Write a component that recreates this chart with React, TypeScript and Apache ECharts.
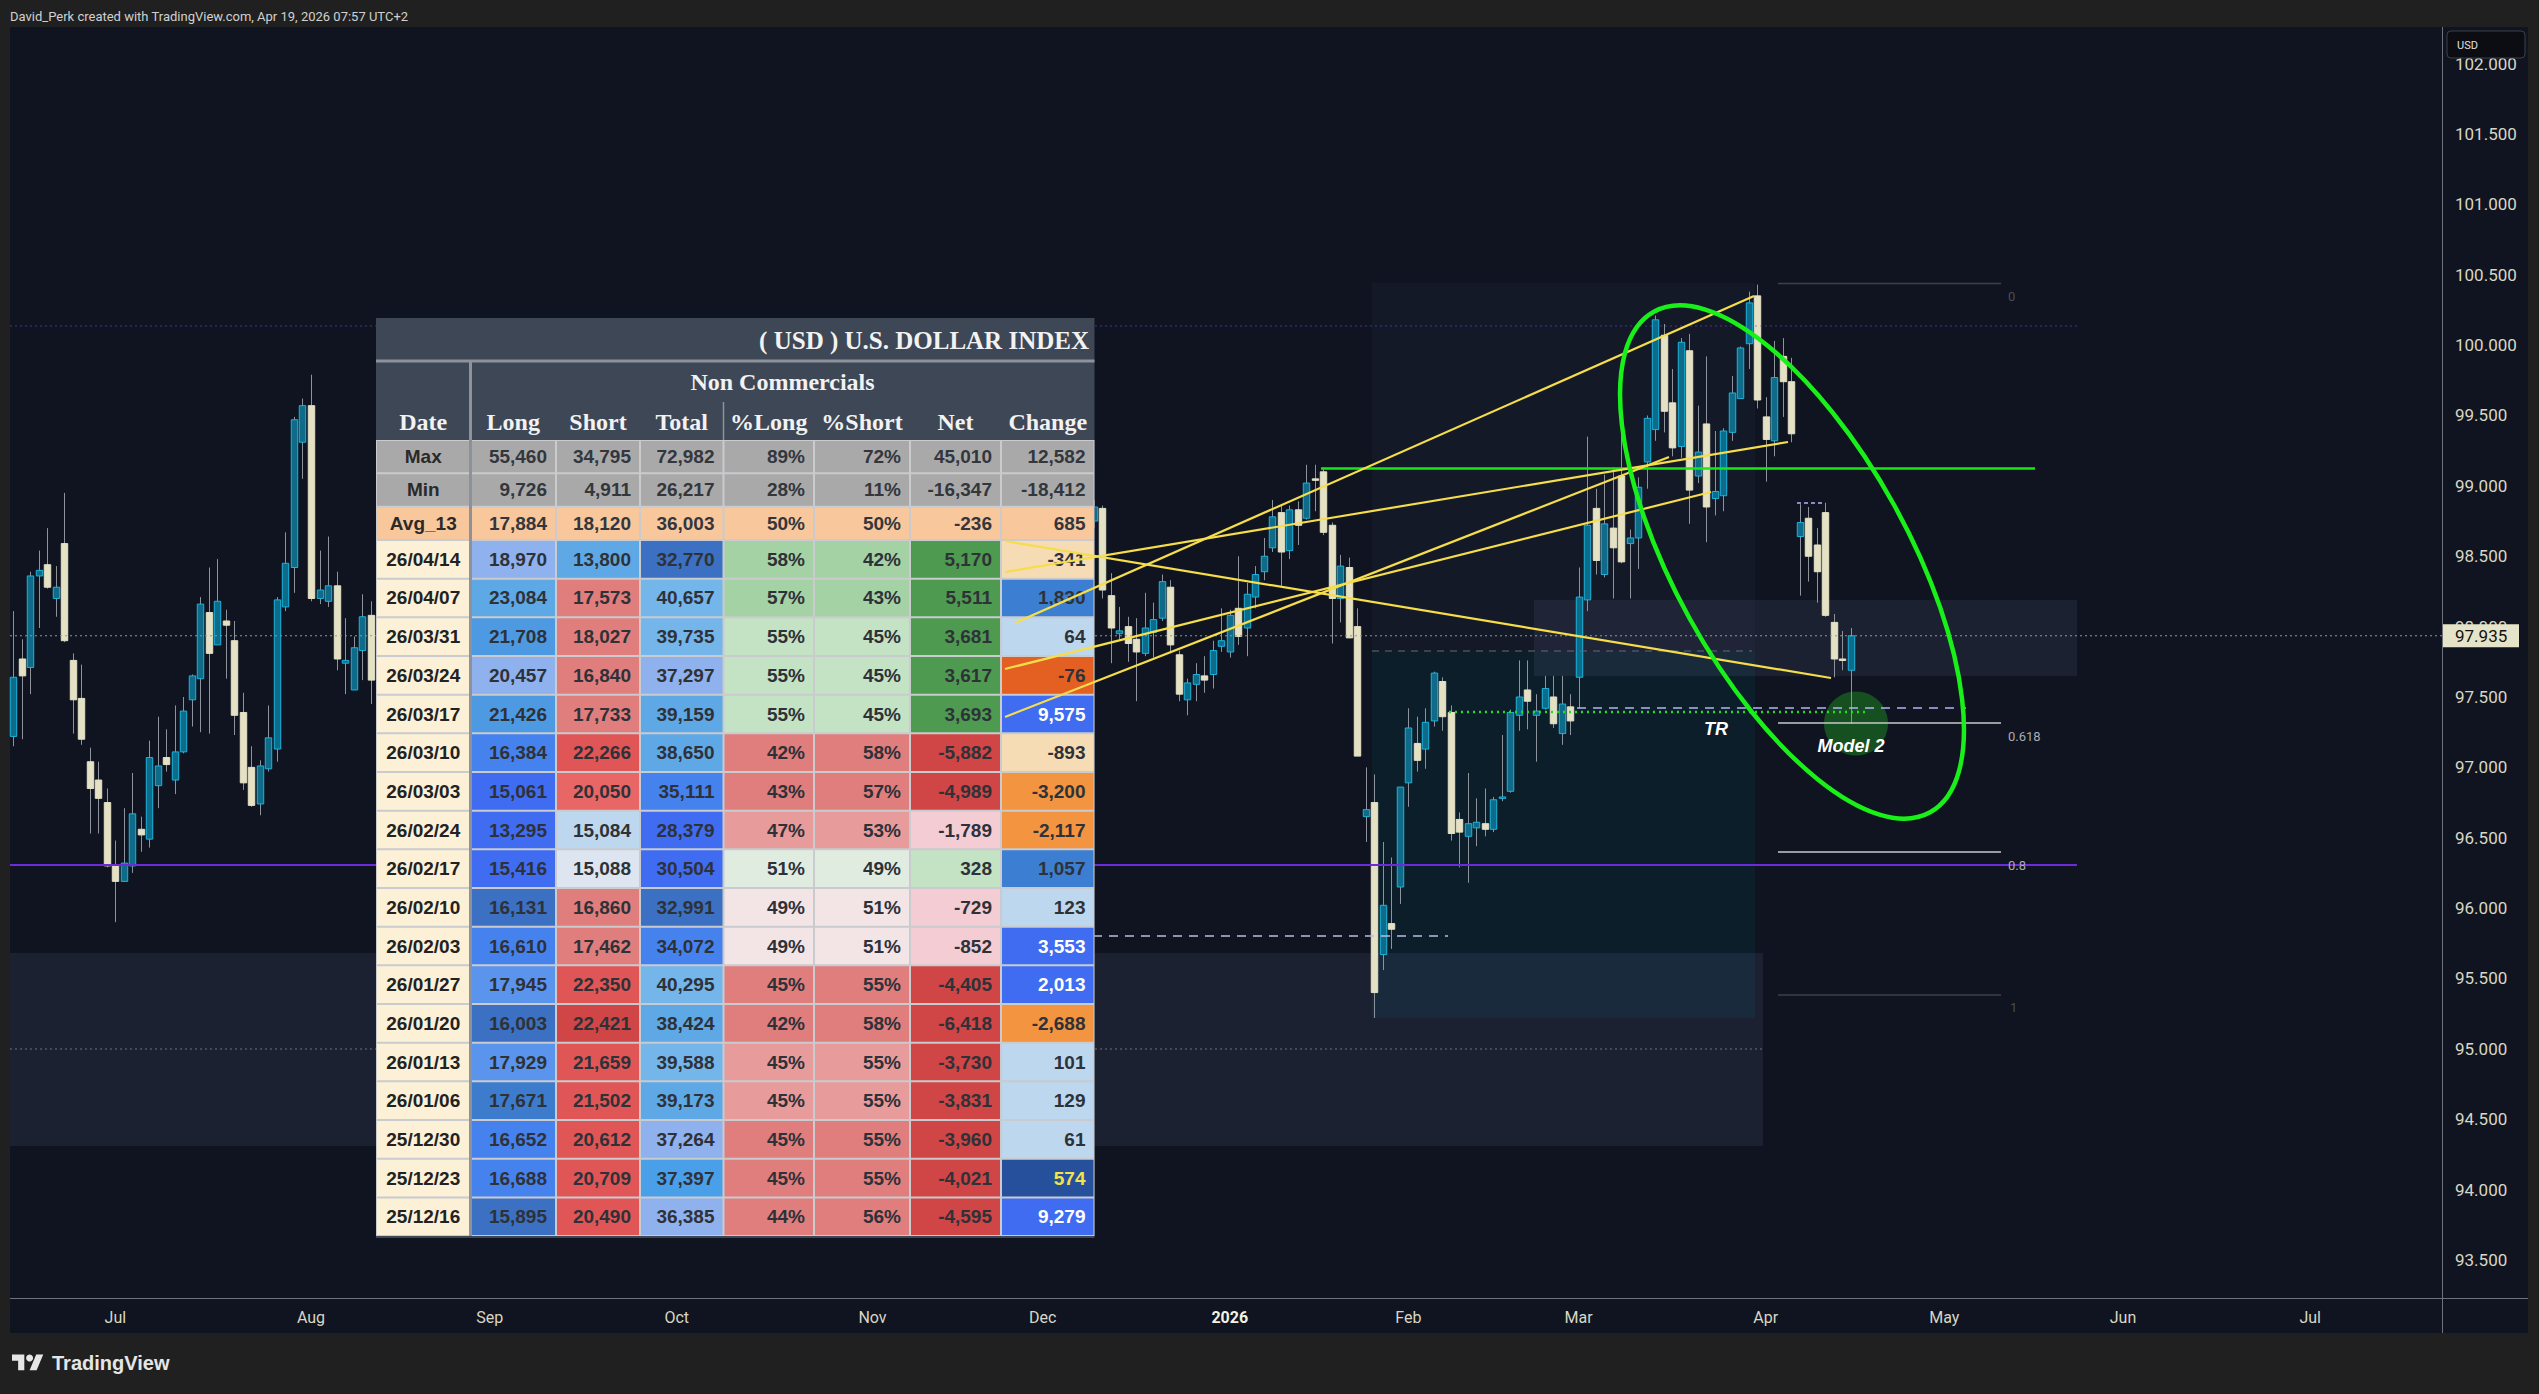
import React, { useEffect, useRef } from "react";
import * as echarts from "echarts";

const WIDTH = 2539;
const HEIGHT = 1394;

// ---------------- calendar (trading days on the category axis) ----------------
const CALENDAR_START = "2025-06-13";
const CALENDAR_SLOTS = 286;
const MARKET_HOLIDAYS = ["2025-12-25", "2026-01-01", "2026-04-03"];
const MONTH_NAMES = ["Jan", "Feb", "Mar", "Apr", "May", "Jun", "Jul", "Aug", "Sep", "Oct", "Nov", "Dec"];

// ---------------- price data: [open, close, low, high] ----------------
// bars visible left of the COT table (Jun 13 -> Aug 12, 2025)
const SUMMER_START = "2025-06-13";
const candlesSummer: number[][] = [
  [97.22, 97.64, 97.15, 98.11], [97.77, 97.65, 97.2, 97.91], [97.71, 98.36, 97.52, 98.39], [98.36, 98.4, 97.99, 98.54],
  [98.44, 98.28, 98.27, 98.7], [98.2, 98.28, 98.07, 98.43], [98.59, 97.9, 97.89, 98.95], [97.76, 97.48, 97.24, 97.81],
  [97.49, 97.2, 97.16, 97.73], [97.04, 96.85, 96.53, 97.14], [96.91, 96.78, 96.53, 97.04], [96.75, 96.3, 96.29, 96.85],
  [96.3, 96.19, 95.9, 96.48], [96.19, 96.32, 96.19, 96.71], [96.3, 96.67, 96.25, 96.96], [96.56, 96.52, 96.4, 96.65],
  [96.49, 97.07, 96.43, 97.19], [96.87, 97.01, 96.71, 97.36], [97.07, 97.02, 96.97, 97.27], [96.91, 97.11, 96.81, 97.44],
  [97.11, 97.4, 97.1, 97.5], [97.48, 97.65, 97.29, 97.66], [97.63, 98.16, 97.25, 98.21], [98.1, 97.81, 97.24, 98.42],
  [97.87, 98.18, 97.87, 98.48], [98.04, 98.01, 97.63, 98.12], [97.9, 97.37, 97.23, 98.04], [97.39, 96.89, 96.84, 97.53],
  [97.0, 96.73, 96.72, 97.15], [96.74, 97.01, 96.66, 97.05], [96.99, 97.21, 96.97, 97.44], [97.13, 98.19, 97.04, 98.21],
  [98.14, 98.45, 98.11, 98.67], [98.42, 99.47, 98.24, 99.49], [99.31, 99.57, 99.05, 99.62], [99.57, 98.2, 98.18, 99.79],
  [98.2, 98.26, 98.16, 98.54], [98.18, 98.29, 98.14, 98.64], [98.29, 97.77, 97.69, 98.39], [97.74, 97.76, 97.52, 98.06],
  [97.55, 97.85, 97.55, 97.93], [97.83, 98.07, 97.62, 98.23], [98.08, 97.62, 97.45, 98.18],
];
// bars Aug 13 -> Dec 8 sit completely behind the COT table and cannot be read
// bars visible right of the table (Dec 9, 2025 -> last bar)
const WINTER_START = "2025-12-09";
const candlesWinter: number[][] = [
  [98.75, 98.85, 98.7, 98.9], [98.84, 98.26, 98.2, 98.86], [98.22, 97.99, 97.74, 98.38], [97.95, 97.97, 97.91, 98.14],
  [98.0, 97.88, 97.75, 98.07], [97.91, 97.82, 97.47, 98.06], [97.81, 97.99, 97.79, 98.24], [97.96, 98.05, 97.78, 98.17],
  [98.06, 98.32, 98.04, 98.37], [98.28, 97.87, 97.81, 98.33], [97.8, 97.52, 97.47, 97.83], [97.48, 97.6, 97.37, 97.63],
  [97.59, 97.66, 97.47, 97.74], [97.65, 97.62, 97.53, 97.79], [97.66, 97.83, 97.56, 97.9], [97.86, 97.9, 97.82, 98.13],
  [97.82, 98.08, 97.78, 98.12], [98.13, 97.93, 97.87, 98.5], [97.99, 98.23, 97.79, 98.31], [98.21, 98.37, 98.13, 98.43],
  [98.39, 98.5, 98.33, 98.63], [98.56, 98.78, 98.53, 98.9], [98.81, 98.53, 98.29, 98.87], [98.54, 98.83, 98.48, 98.86],
  [98.83, 98.72, 98.58, 98.89], [98.77, 99.02, 98.76, 99.15], [99.05, 99.04, 98.82, 99.15], [99.1, 98.67, 98.65, 99.13],
  [98.72, 98.2, 97.88, 98.74], [98.2, 98.43, 98.03, 98.51], [98.42, 97.92, 97.92, 98.49], [98.0, 97.08, 97.08, 98.13],
  [96.65, 96.7, 96.47, 97.0], [96.75, 95.4, 95.22, 96.95], [95.67, 96.02, 95.56, 96.47], [95.89, 95.85, 95.71, 96.36],
  [96.15, 96.86, 96.03, 96.86], [96.89, 97.28, 96.72, 97.42], [97.17, 97.05, 96.97, 97.36], [97.13, 97.32, 96.99, 97.42],
  [97.33, 97.67, 97.29, 97.68], [97.61, 97.36, 97.26, 97.64], [97.39, 96.53, 96.48, 97.44], [96.63, 96.54, 96.29, 96.68],
  [96.51, 96.6, 96.18, 96.96], [96.57, 96.61, 96.44, 96.78], [96.6, 96.56, 96.51, 96.85], [96.56, 96.77, 96.54, 96.79],
  [96.78, 96.79, 96.76, 97.23], [96.83, 97.39, 96.82, 97.41], [97.37, 97.5, 97.26, 97.76], [97.55, 97.47, 97.27, 97.76],
  [97.37, 97.4, 97.04, 97.52], [97.42, 97.56, 97.41, 97.65], [97.5, 97.31, 97.28, 97.65], [97.24, 97.45, 97.16, 97.65],
  [97.43, 97.33, 97.23, 97.52], [97.64, 98.21, 97.42, 98.42], [98.19, 98.72, 98.11, 99.35], [98.84, 98.47, 98.37, 98.98],
  [98.37, 98.73, 98.35, 99.08], [98.7, 98.56, 98.2, 99.13], [99.07, 98.46, 98.45, 99.42], [98.59, 98.63, 98.2, 98.69],
  [98.63, 98.99, 98.41, 99.06], [99.17, 99.48, 98.98, 99.5], [99.4, 100.18, 99.32, 100.21], [100.07, 99.53, 99.38, 100.15],
  [99.59, 99.27, 99.21, 99.83], [99.28, 100.02, 99.2, 100.05], [99.96, 98.97, 98.73, 100.08], [99.07, 99.24, 99.02, 99.57],
  [99.44, 98.85, 98.6, 99.92], [98.91, 98.96, 98.79, 99.39], [98.93, 99.39, 98.82, 99.41], [99.38, 99.66, 99.32, 99.78],
  [99.62, 99.98, 99.62, 99.99], [100.01, 100.3, 99.83, 100.38], [100.35, 99.61, 99.55, 100.43], [99.49, 99.33, 99.03, 99.63],
  [99.32, 99.77, 99.21, 100.03], [99.92, 99.74, 99.49, 100.05], [99.74, 99.37, 99.31, 99.91], [98.64, 98.74, 98.22, 98.87],
  [98.77, 98.5, 98.32, 98.85], [98.58, 98.39, 98.17, 98.7], [98.81, 98.08, 98.07, 98.88], [98.03, 97.77, 97.64, 98.09],
  [97.77, 97.76, 97.69, 97.97], [97.69, 97.935, 97.31, 97.99],
];

const PRICE_MIN = 93.23;
const PRICE_MAX = 102.2602;

// ---------------- COT table data ----------------
const TABLE_TITLE = "( USD ) U.S. DOLLAR INDEX";
const TABLE_GROUP = "Non Commercials";
const TABLE_HEADERS = ["Date", "Long", "Short", "Total", "%Long", "%Short", "Net", "Change"];
const statLabels = ["Max", "Min", "Avg_13"];
const statMax = [55460, 34795, 72982, 89, 72, 45010, 12582];
const statMin = [9726, 4911, 26217, 28, 11, -16347, -18412];
const statAvg13 = [17884, 18120, 36003, 50, 50, -236, 685];
const cotDates = ["26/04/14", "26/04/07", "26/03/31", "26/03/24", "26/03/17", "26/03/10", "26/03/03", "26/02/24", "26/02/17",
  "26/02/10", "26/02/03", "26/01/27", "26/01/20", "26/01/13", "26/01/06", "25/12/30", "25/12/23", "25/12/16"];
const cotLong = [18970, 23084, 21708, 20457, 21426, 16384, 15061, 13295, 15416, 16131, 16610, 17945, 16003, 17929, 17671, 16652, 16688, 15895];
const cotShort = [13800, 17573, 18027, 16840, 17733, 22266, 20050, 15084, 15088, 16860, 17462, 22350, 22421, 21659, 21502, 20612, 20709, 20490];
const cotTotal = [32770, 40657, 39735, 37297, 39159, 38650, 35111, 28379, 30504, 32991, 34072, 40295, 38424, 39588, 39173, 37264, 37397, 36385];
const cotPctLong = [58, 57, 55, 55, 55, 42, 43, 47, 51, 49, 49, 45, 42, 45, 45, 45, 45, 44];
const cotPctShort = [42, 43, 45, 45, 45, 58, 57, 53, 49, 51, 51, 55, 58, 55, 55, 55, 55, 56];
const cotNet = [5170, 5511, 3681, 3617, 3693, -5882, -4989, -1789, 328, -729, -852, -4405, -6418, -3730, -3831, -3960, -4021, -4595];
const cotChange = [-341, 1830, 64, -76, 9575, -893, -3200, -2117, 1057, 123, 3553, 2013, -2688, 101, 129, 61, 574, 9279];

// cell colour styles (Long, Short, Total, %Long, %Short, Net, Change)
const C = {
  bl1: "#8fb1ee", bl2: "#5fa8e6", bl3: "#3b70c2", bl4: "#4d9ae3", bl5: "#4682ee", bl6: "#3f6cf0", bl7: "#74b5ea",
  blm: "#3c7fd2", blk: "#5a94ec", bls: "#3d7ccc", blt: "#4aa0e8", blp: "#bdd7ef", blv: "#dde5f0", navy: "#27509c",
  gr1: "#a5d2a5", gr2: "#c4e2c4", gr3: "#e1ece1", grn: "#4e9a50",
  rd1: "#e07e7e", rd2: "#e05656", rd3: "#d04545", rd4: "#e89b9b", rd5: "#e86666", pk1: "#f4ccd4", pk2: "#f3e4e6",
  or1: "#f29440", or2: "#e35f22", pch: "#f5dcb5",
};
const cellFills = [
  [C.bl1, C.bl2, C.bl3, C.gr1, C.gr1, C.grn, C.pch],
  [C.bl2, C.rd1, C.bl7, C.gr1, C.gr1, C.grn, C.blm],
  [C.bl4, C.rd1, C.bl7, C.gr2, C.gr2, C.grn, C.blp],
  [C.bl1, C.rd1, C.bl1, C.gr2, C.gr2, C.grn, C.or2],
  [C.bl4, C.rd1, C.bl2, C.gr2, C.gr2, C.grn, C.bl6],
  [C.bl5, C.rd2, C.bl2, C.rd1, C.rd1, C.rd3, C.pch],
  [C.bl6, C.rd5, C.bl5, C.rd1, C.rd1, C.rd3, C.or1],
  [C.bl6, C.blp, C.bl6, C.rd4, C.rd4, C.pk1, C.or1],
  [C.bl6, C.blv, C.bl6, C.gr3, C.gr3, C.gr2, C.blm],
  [C.bl3, C.rd1, C.bl3, C.pk2, C.pk2, C.pk1, C.blp],
  [C.bl5, C.rd1, C.bl5, C.pk2, C.pk2, C.pk1, C.bl6],
  [C.blk, C.rd2, C.bl7, C.rd1, C.rd1, C.rd3, C.bl6],
  [C.bl3, C.rd3, C.bl2, C.rd1, C.rd1, C.rd3, C.or1],
  [C.blk, C.rd2, C.bl7, C.rd4, C.rd4, C.rd3, C.blp],
  [C.bls, C.rd2, C.bl2, C.rd4, C.rd4, C.rd3, C.blp],
  [C.bl5, C.rd2, C.bl1, C.rd1, C.rd1, C.rd3, C.blp],
  [C.bl5, C.rd2, C.blt, C.rd1, C.rd1, C.rd3, C.navy],
  [C.bl3, C.rd2, C.bl1, C.rd1, C.rd1, C.rd3, C.bl6],
];
const changeTextColors = ["#2e3238", "#2e3238", "#2e3238", "#2e3238", "#ffffff", "#2e3238", "#2e3238", "#2e3238", "#2e3238",
  "#2e3238", "#ffffff", "#ffffff", "#2e3238", "#2e3238", "#2e3238", "#2e3238", "#f2e34a", "#ffffff"];

// ---------------- styles ----------------
const PANE_BG = "#0f1420";
const FRAME_BG = "#202020";
const AXIS_TEXT = "#d9d7c4";
const WICK = "#8e939b";
const UP_FILL = "#0f6b8a";
const UP_BORDER = "#1ab4dc";
const DOWN_FILL = "#e4e1c5";
const YELLOW = "#f5dd4b";
const SANS = '"Liberation Sans", Arial, sans-serif';
const SERIF = '"Liberation Serif", "Times New Roman", serif';
const UI = 'Roboto, "Liberation Sans", sans-serif';

function buildCalendar(): string[] {
  const out: string[] = [];
  const d = new Date(CALENDAR_START + "T00:00:00Z");
  while (out.length < CALENDAR_SLOTS) {
    const wd = d.getUTCDay();
    const iso = d.toISOString().slice(0, 10);
    if (wd !== 0 && wd !== 6 && MARKET_HOLIDAYS.indexOf(iso) < 0) out.push(iso);
    d.setUTCDate(d.getUTCDate() + 1);
  }
  return out;
}

const fmt = (v: number) => v.toLocaleString("en-US");

function renderCandle(_params: any, api: any) {
  const idx = api.value(0);
  const o = api.value(1), c = api.value(2), l = api.value(3), h = api.value(4);
  const pHigh = api.coord([idx, h]);
  const pLow = api.coord([idx, l]);
  const pTop = api.coord([idx, Math.max(o, c)]);
  const pBot = api.coord([idx, Math.min(o, c)]);
  const bw = api.size([1, 0])[0] * 0.76;
  const up = c > o;
  const x = Math.round(pTop[0]) + 0.5;
  return {
    type: "group",
    children: [
      { type: "line", shape: { x1: x, y1: pHigh[1], x2: x, y2: pLow[1] }, style: { stroke: WICK, lineWidth: 1 } },
      {
        type: "rect",
        shape: { x: x - bw / 2, y: pTop[1], width: bw, height: Math.max(pBot[1] - pTop[1], 1.5) },
        style: { fill: up ? UP_FILL : DOWN_FILL, stroke: up ? UP_BORDER : DOWN_FILL, lineWidth: 1 },
      },
    ],
  };
}

function R(x: number, y: number, w: number, h: number, fill: string, z: number, extra: any = {}) {
  return { type: "rect", z, silent: true, shape: { x, y, width: w, height: h, r: extra.r || 0 }, style: { fill, ...extra.style } };
}
function L(x1: number, y1: number, x2: number, y2: number, stroke: string, lw: number, z: number, dash?: number[]) {
  const style: any = { stroke, lineWidth: lw };
  if (dash) style.lineDash = dash;
  return { type: "line", z, silent: true, shape: { x1, y1, x2, y2 }, style };
}
function T(x: number, y: number, text: string, font: string, fill: string, align: string, z: number) {
  return {
    type: "text", z, silent: true, x, y,
    style: { text, font, fill, align, textAlign: align, verticalAlign: "middle", textVerticalAlign: "middle" },
  };
}

function buildGraphics(py: (p: number) => number, lastClose: number) {
  const g: any[] = [];
  // outer frame
  g.push(R(0, 0, WIDTH, 27, FRAME_BG, 0), R(0, 0, 10, HEIGHT, FRAME_BG, 0), R(2528, 0, 11, HEIGHT, FRAME_BG, 0), R(0, 1333, WIDTH, 61, FRAME_BG, 0));
  g.push(T(10, 16, "David_Perk created with TradingView.com, Apr 19, 2026 07:57 UTC+2", `13px ${UI}`, "#d0d0d0", "left", 1));
  // TradingView logo
  const s = 0.88, lx = 12, ly = 1351;
  g.push({ type: "polygon", z: 1, silent: true, x: lx, y: ly, scaleX: s, scaleY: s, shape: { points: [[0, 4], [14, 4], [14, 22], [7, 22], [7, 11], [0, 11]] }, style: { fill: "#e6e6e6" } });
  g.push({ type: "circle", z: 1, silent: true, x: lx, y: ly, scaleX: s, scaleY: s, shape: { cx: 20, cy: 8, r: 4 }, style: { fill: "#e6e6e6" } });
  g.push({ type: "polygon", z: 1, silent: true, x: lx, y: ly, scaleX: s, scaleY: s, shape: { points: [[20, 22], [27.5, 4], [35.5, 4], [28, 22]] }, style: { fill: "#e6e6e6" } });
  g.push(T(52, 1363, "TradingView", `bold 20px ${SANS}`, "#e6e6e6", "left", 1));
  // pane separators
  g.push(L(10, 1298.5, 2528, 1298.5, "#6f727a", 1, 3), L(2442.5, 27, 2442.5, 1333, "#6f727a", 1, 3));

  // zones
  g.push(R(10, 953, 1753, 193, "rgba(110,120,170,0.13)", 1));
  g.push(R(1372, 283, 383, 368, "rgba(70,80,105,0.10)", 1));
  g.push(R(1372, 651, 383, 367, "rgba(0,130,150,0.10)", 1));
  g.push(R(1534, 600, 543, 76, "rgba(110,120,170,0.13)", 1));
  g.push({ type: "circle", z: 1, silent: true, shape: { cx: 1856, cy: 723.5, r: 32 }, style: { fill: "rgba(30,130,35,0.55)" } });

  // horizontal drawings (under the table)
  g.push(L(10, 326, 2077, 326, "rgba(120,60,220,0.6)", 1, 4, [2, 3]));
  g.push(L(10, 865, 2077, 865, "#6c2bd9", 2, 4));
  const yLast = py(lastClose);
  g.push(L(10, yLast, 2443, yLast, "#9097a0", 1, 4, [2, 3]));
  g.push(L(10, 1049, 1763, 1049, "#6d7386", 1, 4, [2, 3]));
  g.push(L(1372, 651, 1752, 651, "#666b78", 1, 4, [7, 6]));
  g.push(L(1577, 708, 1966, 708, "#b3b4f5", 1.5, 4, [9, 7]));
  g.push(L(1093, 936, 1448, 936, "#b8bce6", 1.5, 4, [9, 7]));
  g.push(L(1797, 503, 1822, 503, "#b3b4f5", 1.5, 4, [4, 3]));
  g.push(L(1449, 712, 1865, 712, "#22dd22", 2.5, 4, [2, 4]));
  // fib levels
  g.push(L(1778, 283.5, 2001, 283.5, "#3d4047", 1.5, 4), T(2008, 296, "0", `13px ${UI}`, "#4a4e57", "left", 4));
  g.push(L(1778, 723, 2001, 723, "#c8c8c8", 1.5, 4), T(2008, 736, "0.618", `13px ${UI}`, "#a8acb4", "left", 4));
  g.push(L(1778, 852, 2001, 852, "#c8c8c8", 1.5, 4), T(2008, 865, "0.8", `13px ${UI}`, "#a8acb4", "left", 4));
  g.push(L(1778, 995, 2001, 995, "#3d4047", 1.5, 4), T(2010, 1007, "1", `13px ${UI}`, "#4a4e57", "left", 4));

  // ---------- COT table ----------
  const COLX = [376, 470.5, 556, 640, 723.5, 814, 910, 1001, 1094.5];
  const TL = 376, TR = 1094.5, TT = 318, TITLE_B = 361, HEAD_B = 440, STAT_H = 33.33, ROW_H = 38.67;
  const dataTop = HEAD_B + 3 * STAT_H;
  const bottom = dataTop + cotDates.length * ROW_H;
  g.push(R(TL, TT, TR - TL, bottom + 2 - TT, "#3e4755", 5));
  g.push(R(TL, HEAD_B, TR - TL, bottom - HEAD_B, "#c9cbce", 5));
  g.push(L(TL, TITLE_B, TR, TITLE_B, "#8e939b", 3, 6));
  g.push(T(1089, 340, TABLE_TITLE, `bold 25px ${SERIF}`, "#f2f2f2", "right", 7));
  g.push(T((COLX[1] + COLX[8]) / 2, 382, TABLE_GROUP, `bold 24px ${SERIF}`, "#f2f2f2", "center", 7));
  TABLE_HEADERS.forEach((h, i) => g.push(T((COLX[i] + COLX[i + 1]) / 2, 422, h, `bold 24px ${SERIF}`, "#f2f2f2", "center", 7)));
  g.push(L(470.5, TITLE_B, 470.5, HEAD_B, "#8e939b", 3, 6), L(723.5, 402, 723.5, HEAD_B, "#8e939b", 1.5, 6));

  const cellFont = `bold 19px ${SANS}`;
  const statRows = [statMax, statMin, statAvg13];
  statRows.forEach((vals, r) => {
    const y0 = HEAD_B + r * STAT_H;
    const fill = r < 2 ? "#a9a9a9" : "#f8c89c";
    for (let c = 0; c < 8; c++) g.push(R(COLX[c] + 1, y0 + 1, COLX[c + 1] - COLX[c] - 2, STAT_H - 2, fill, 6));
    g.push(T((COLX[0] + COLX[1]) / 2, y0 + STAT_H / 2, statLabels[r], cellFont, "#2a2a2a", "center", 7));
    vals.forEach((v, c) => {
      const str = c === 3 || c === 4 ? `${v}%` : fmt(v);
      g.push(T(COLX[c + 2] - 9, y0 + STAT_H / 2, str, cellFont, "#33373d", "right", 7));
    });
  });
  cotDates.forEach((d, r) => {
    const y0 = dataTop + r * ROW_H;
    g.push(R(COLX[0] + 1, y0 + 1, COLX[1] - COLX[0] - 2, ROW_H - 2, "#fcf0d6", 6));
    g.push(T((COLX[0] + COLX[1]) / 2, y0 + ROW_H / 2, d, cellFont, "#222222", "center", 7));
    const vals = [fmt(cotLong[r]), fmt(cotShort[r]), fmt(cotTotal[r]), `${cotPctLong[r]}%`, `${cotPctShort[r]}%`, fmt(cotNet[r]), fmt(cotChange[r])];
    vals.forEach((str, c) => {
      g.push(R(COLX[c + 1] + 1, y0 + 1, COLX[c + 2] - COLX[c + 1] - 2, ROW_H - 2, cellFills[r][c], 6));
      const color = c === 6 ? changeTextColors[r] : "#2e3238";
      g.push(T(COLX[c + 2] - 9, y0 + ROW_H / 2, str, cellFont, color, "right", 7));
    });
  });
  g.push(L(470.5, HEAD_B, 470.5, bottom, "#8d929a", 3, 6.5));

  // ---------- drawings over the table ----------
  g.push(L(1321, 468.6, 2035, 468.6, "#19e619", 2.5, 8));
  const yellow: number[][] = [
    [1015, 623, 1754, 296], [1005, 541, 1831, 678], [1005, 572, 1788, 442], [1005, 717, 1669, 457], [1005, 669, 1711, 492],
  ];
  yellow.forEach(([a, b, c2, d]) => g.push(L(a, b, c2, d, YELLOW, 2.2, 8)));
  g.push({
    type: "ellipse", z: 9, silent: true, x: 1792, y: 562, rotation: -1.0664,
    shape: { cx: 0, cy: 0, rx: 286, ry: 117 }, style: { fill: "transparent", stroke: "#19f019", lineWidth: 4.5 },
  });
  g.push(T(1716, 729, "TR", `italic bold 18px ${SANS}`, "#ffffff", "center", 10));
  g.push(T(1851, 746, "Model 2", `italic bold 18px ${SANS}`, "#ffffff", "center", 10));

  // ---------- price scale badges ----------
  g.push(R(2447, 31, 78, 27, "#0b0d12", 11, { r: 4, style: { stroke: "#3d4048", lineWidth: 1 } }));
  g.push(T(2457, 45, "USD", `11px ${UI}`, "#e0e0e0", "left", 12));
  g.push(R(2443, yLast - 11.5, 76, 23, "#e6e4c8", 11));
  g.push(T(2455, yLast + 0.5, lastClose.toFixed(3), `17px ${UI}`, "#111111", "left", 12));
  return g;
}

export default function App() {
  const ref = useRef<HTMLDivElement>(null);
  useEffect(() => {
    document.body.style.margin = "0";
    document.body.style.overflow = "hidden";
    const calendar = buildCalendar();
    const monthStart = new Set<number>();
    for (let i = 1; i < calendar.length; i++) if (calendar[i].slice(5, 7) !== calendar[i - 1].slice(5, 7)) monthStart.add(i);

    const data: number[][] = [];
    const s1 = calendar.indexOf(SUMMER_START);
    candlesSummer.forEach((c, k) => data.push([s1 + k, ...c]));
    const s2 = calendar.indexOf(WINTER_START);
    candlesWinter.forEach((c, k) => data.push([s2 + k, ...c]));
    const lastClose = candlesWinter[candlesWinter.length - 1][1];

    const chart = echarts.init(ref.current!, null, { renderer: "svg", width: WIDTH, height: HEIGHT });
    chart.setOption({
      animation: false,
      backgroundColor: PANE_BG,
      grid: { left: 9, right: 97, top: 27, bottom: 96 },
      xAxis: {
        type: "category",
        data: calendar,
        boundaryGap: true,
        axisLine: { show: false },
        axisTick: { show: false },
        splitLine: { show: false },
        axisLabel: {
          interval: (i: number) => monthStart.has(i),
          formatter: (v: string) => {
            const m = parseInt(v.slice(5, 7), 10);
            return m === 1 ? `{yr|${v.slice(0, 4)}}` : MONTH_NAMES[m - 1];
          },
          color: AXIS_TEXT,
          fontSize: 16,
          fontFamily: "Roboto",
          margin: 11,
          rich: { yr: { fontWeight: "bold", color: "#f4f2e0", fontSize: 16, fontFamily: "Roboto" } },
        },
      },
      yAxis: {
        type: "value",
        position: "right",
        min: PRICE_MIN,
        max: PRICE_MAX,
        splitNumber: 18,
        axisLine: { show: false },
        axisTick: { show: false },
        splitLine: { show: false },
        axisLabel: {
          formatter: (v: number) => v.toFixed(3),
          color: AXIS_TEXT,
          fontSize: 17,
          fontFamily: "Roboto",
          margin: 13,
          showMinLabel: false,
          showMaxLabel: false,
        },
      },
      series: [
        { type: "custom", renderItem: renderCandle, data, encode: { x: 0, y: [1, 2, 3, 4] }, z: 2, clip: true },
      ],
    });
    const py = (p: number) => chart.convertToPixel({ yAxisIndex: 0 }, p) as number;
    chart.setOption({ graphic: { elements: buildGraphics(py, lastClose) } });
    return () => chart.dispose();
  }, []);
  return <div ref={ref} style={{ position: "fixed", left: 0, top: 0, width: WIDTH, height: HEIGHT }} />;
}
